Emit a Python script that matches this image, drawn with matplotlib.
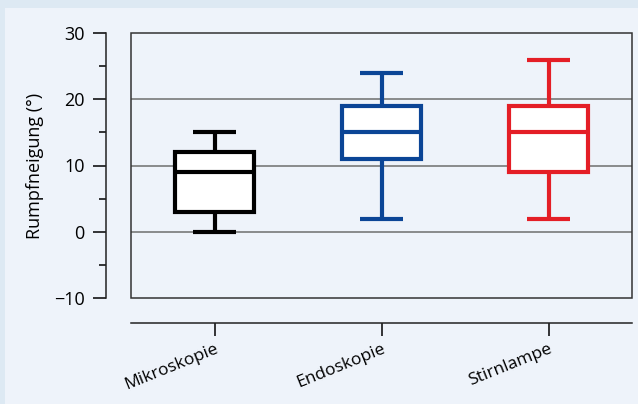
import matplotlib.pyplot as plt
from matplotlib.patches import Rectangle

plt.rcParams['font.family'] = ['Open Sans', 'DejaVu Sans']

# Data
groups = ['Mikroskopie', 'Endoskopie', 'Stirnlampe']
whisker_low = [0, 2, 2]
q1 = [3, 11, 9]
median = [9, 15, 15]
q3 = [12, 19, 19]
whisker_high = [15, 24, 26]
colors = ['#000000', '#0b4596', '#e41e26']

W, H = 638, 404
fig = plt.figure(figsize=(W / 100, H / 100), dpi=100)
fig.patch.set_facecolor('#dde9f3')
fig.patches.append(Rectangle((5 / W, 0), 1, (H - 8) / H, transform=fig.transFigure,
                             facecolor='#eef3fa', edgecolor='none', zorder=-10))

ax = fig.add_axes([131 / W, (H - 298) / H, (632 - 131) / W, (298 - 33) / H])
ax.set_facecolor('#eef3fa')

stats = []
for i, g in enumerate(groups):
    stats.append(dict(label=g, whislo=whisker_low[i], q1=q1[i], med=median[i],
                      q3=q3[i], whishi=whisker_high[i], fliers=[]))

bp = ax.bxp(stats, positions=[1, 2, 3], widths=0.47, capwidths=0.26,
            patch_artist=True, showfliers=False)
lw = 3.0
for i, c in enumerate(colors):
    bp['boxes'][i].set(facecolor='white', edgecolor=c, linewidth=lw, zorder=3)
    bp['medians'][i].set(color=c, linewidth=lw, zorder=4)
    for k in (2 * i, 2 * i + 1):
        bp['whiskers'][k].set(color=c, linewidth=lw, solid_capstyle='butt', zorder=2)
        bp['caps'][k].set(color=c, linewidth=lw, solid_capstyle='butt', zorder=2)

ax.set_xlim(0.5, 3.5)
ax.set_ylim(-10, 30)
for y in (0, 10, 20):
    ax.axhline(y, color='#6e6e6e', lw=1.1, zorder=1)

# frame around plot area
ax.add_patch(Rectangle((0, 0), 1, 1, transform=ax.transAxes, fill=False,
                       edgecolor='#333333', lw=1.1, clip_on=False, zorder=5))

for s in ('top', 'right'):
    ax.spines[s].set_visible(False)
ax.spines['left'].set_position(('outward', 18))
ax.spines['bottom'].set_position(('outward', 18))
for s in ('left', 'bottom'):
    ax.spines[s].set_linewidth(1.1)
    ax.spines[s].set_color('#222222')

ax.set_yticks([-10, 0, 10, 20, 30])
ax.set_yticks([-5, 5, 15, 25], minor=True)
ax.set_yticklabels(['\u221210', '0', '10', '20', '30'])
ax.tick_params(axis='y', which='major', length=9.5, width=1.1, labelsize=13, pad=6)
ax.tick_params(axis='y', which='minor', length=5, width=1.1)
ax.tick_params(axis='x', length=9, width=1.1, labelsize=12.5, pad=4)
ax.set_xticks([1, 2, 3])
ax.set_xticklabels(groups, rotation=22, ha='right', rotation_mode='anchor')
ax.set_ylabel('Rumpfneigung (°)', fontsize=13, labelpad=7)

fig.savefig('out.png', dpi=100, facecolor=fig.get_facecolor())
